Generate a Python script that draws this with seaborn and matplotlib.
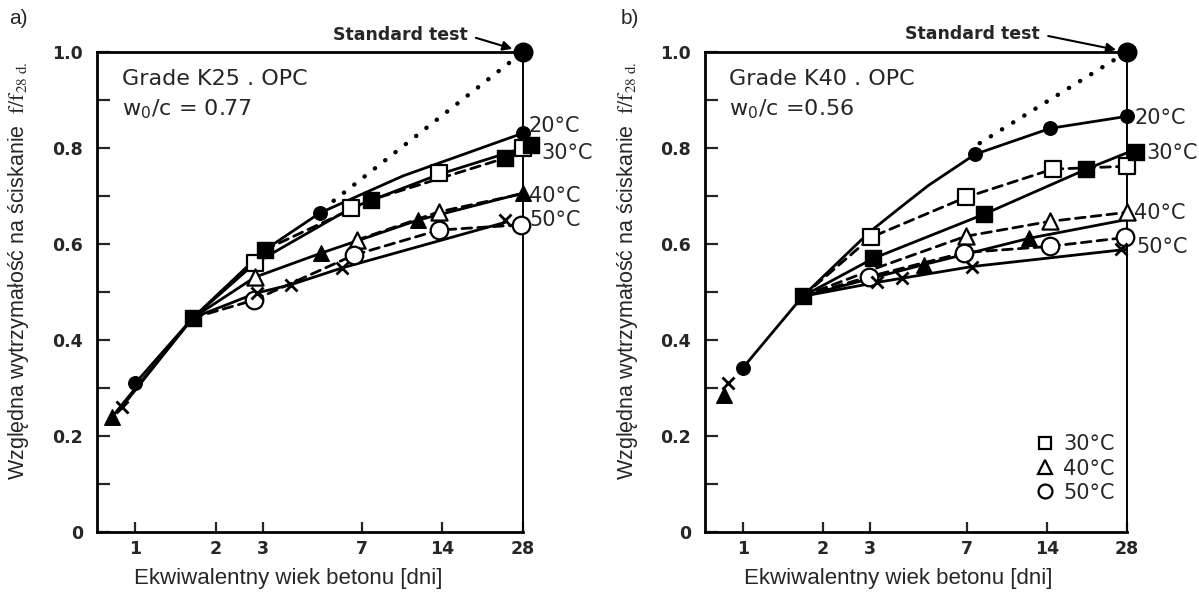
import matplotlib
matplotlib.use("Agg")
import matplotlib.pyplot as plt
from matplotlib.lines import Line2D
from matplotlib.ticker import NullLocator, FixedLocator, FixedFormatter
import seaborn as sns

# ---------------- axis ticks ----------------
X_TICKS = [1, 2, 3, 7, 14, 28]
X_TICK_LABELS = ["1", "2", "3", "7", "14", "28"]
Y_TICKS = [0.0, 0.1, 0.2, 0.3, 0.4, 0.5, 0.6, 0.7, 0.8, 0.9, 1.0]
Y_TICK_LABELS = ["0", "", "0.2", "", "0.4", "", "0.6", "", "0.8", "", "1.0"]

# ---------------- panel a: grade K25, OPC, w0/c = 0.77 ----------------
# fitted curves (age in days, relative strength)
A_C20_D = [1.0, 1.64, 3.05, 4.9, 10, 28]
A_C20_V = [0.31, 0.446, 0.588, 0.665, 0.742, 0.831]
A_C30o_D = [1.64, 2.8, 6.4, 13.6, 28]
A_C30o_V = [0.446, 0.56, 0.675, 0.745, 0.80]
A_C30f_D = [3.05, 7.6, 24, 28]
A_C30f_V = [0.588, 0.692, 0.779, 0.795]
A_C40f_D = [0.82, 1.64, 2.8, 4.94, 11.4, 28]
A_C40f_V = [0.24, 0.446, 0.531, 0.581, 0.65, 0.706]
A_C40o_D = [6.7, 13.6, 28]
A_C40o_V = [0.608, 0.667, 0.705]
A_C50o_D = [1.64, 2.77, 6.55, 13.6, 27.5]
A_C50o_V = [0.446, 0.483, 0.577, 0.629, 0.64]
A_C50x_D = [0.89, 1.64, 2.84, 3.8, 5.9, 24]
A_C50x_V = [0.26, 0.446, 0.498, 0.515, 0.55, 0.645]
A_DOT_D = [5.5, 28]
A_DOT_V = [0.69, 1.0]
# measured points
A_P20_D = [1.0, 4.9, 28]
A_P20_V = [0.31, 0.665, 0.831]
A_P30f_D = [1.64, 3.05, 7.6, 24, 30]
A_P30f_V = [0.446, 0.588, 0.692, 0.779, 0.806]
A_P30o_D = [2.8, 6.4, 13.6, 28]
A_P30o_V = [0.56, 0.675, 0.748, 0.80]
A_P40f_D = [0.82, 4.94, 11.4, 28]
A_P40f_V = [0.24, 0.581, 0.65, 0.706]
A_P40o_D = [2.8, 6.7, 13.6]
A_P40o_V = [0.531, 0.608, 0.667]
A_P50o_D = [2.77, 6.55, 13.6, 27.5]
A_P50o_V = [0.483, 0.577, 0.629, 0.64]
A_P50x_D = [0.89, 2.84, 3.8, 5.9, 24]
A_P50x_V = [0.26, 0.498, 0.515, 0.55, 0.65]
A_STD_D = [28]
A_STD_V = [1.0]

# ---------------- panel b: grade K40, OPC, w0/c = 0.56 ----------------
B_C20_D = [1.0, 1.68, 3.0, 4.0, 5.0, 7.5, 14.4, 28]
B_C20_V = [0.342, 0.491, 0.625, 0.68, 0.722, 0.787, 0.841, 0.866]
B_C30o_D = [1.68, 3.04, 6.9, 14.7, 28]
B_C30o_V = [0.491, 0.614, 0.697, 0.756, 0.762]
B_C30f_D = [1.68, 3.1, 8.1, 19.7, 28]
B_C30f_V = [0.491, 0.57, 0.662, 0.756, 0.79]
B_C40o_D = [1.68, 3.3, 6.9, 14.3, 28]
B_C40o_V = [0.491, 0.553, 0.616, 0.647, 0.666]
B_C40f_D = [1.68, 4.8, 12, 28]
B_C40f_V = [0.491, 0.557, 0.612, 0.651]
B_C50o_D = [1.68, 2.99, 6.8, 14.3, 28]
B_C50o_V = [0.491, 0.532, 0.582, 0.595, 0.614]
B_C50x_D = [1.68, 3.2, 7.3, 28]
B_C50x_V = [0.491, 0.52, 0.553, 0.589]
B_DOT_D = [7.8, 28]
B_DOT_V = [0.81, 1.0]
B_P20_D = [1.0, 7.5, 14.4, 28]
B_P20_V = [0.342, 0.787, 0.841, 0.866]
B_P30f_D = [1.68, 3.1, 8.1, 19.7, 30.4]
B_P30f_V = [0.491, 0.57, 0.662, 0.756, 0.791]
B_P30o_D = [3.04, 6.9, 14.7, 28]
B_P30o_V = [0.614, 0.697, 0.756, 0.762]
B_P40f_D = [0.85, 4.8, 12]
B_P40f_V = [0.286, 0.557, 0.612]
B_P40o_D = [6.9, 14.3, 28]
B_P40o_V = [0.616, 0.647, 0.666]
B_P50o_D = [2.99, 6.8, 14.3, 27.6]
B_P50o_V = [0.532, 0.582, 0.595, 0.614]
B_P50x_D = [0.88, 3.2, 3.96, 7.3, 26.6]
B_P50x_V = [0.311, 0.52, 0.53, 0.553, 0.589]
B_STD_D = [28]
B_STD_V = [1.0]

TEMP_LABELS = ["20°C", "30°C", "40°C", "50°C"]
LEGEND_LABELS = ["30°C", "40°C", "50°C"]

sns.set_theme(style="ticks")
plt.rcParams["font.family"] = ["DejaVu Sans"]
plt.rcParams["mathtext.fontset"] = "stix"

SOLID = "-"
DASHED = (0, (3.5, 2.2))
DOTTED = (0, (0.05, 2.9))

MARKERS = {
    "fc": dict(marker="o", s=95, color="black", edgecolor="black", linewidth=1),
    "fs": dict(marker="s", s=120, color="black", edgecolor="black", linewidth=1),
    "os": dict(marker="s", s=120, color="white", edgecolor="black", linewidth=1.6),
    "ft": dict(marker="^", s=125, color="black", edgecolor="black", linewidth=1),
    "ot": dict(marker="^", s=135, color="white", edgecolor="black", linewidth=1.6),
    "oc": dict(marker="o", s=160, color="white", edgecolor="black", linewidth=1.6),
    "x": dict(marker="x", s=75, color="black", linewidth=2.0),
    "std": dict(marker="o", s=180, color="black", edgecolor="black", linewidth=1),
}

fig = plt.figure(figsize=(11.99, 5.95), dpi=100)
fig.patch.set_facecolor("white")


def curve(ax, d, v, ls, lw=2.0):
    sns.lineplot(x=d, y=v, ax=ax, color="black", lw=lw, linestyle=ls,
                 sort=False, estimator=None, zorder=3,
                 dash_capstyle="round", solid_capstyle="round",
                 solid_joinstyle="round")


def points(ax, d, v, kind):
    sns.scatterplot(x=d, y=v, ax=ax, legend=False, clip_on=False, zorder=6,
                    **MARKERS[kind])


def frame(ax, grade, ratio, ypos_labels, xlabel_pos):
    ax.set_xscale("log")
    ax.set_xlim(0.72, 28)
    ax.set_ylim(0, 1.0)
    ax.xaxis.set_minor_locator(NullLocator())
    ax.xaxis.set_major_locator(FixedLocator(X_TICKS))
    ax.xaxis.set_major_formatter(FixedFormatter(X_TICK_LABELS))
    ax.yaxis.set_major_locator(FixedLocator(Y_TICKS))
    ax.yaxis.set_major_formatter(FixedFormatter(Y_TICK_LABELS))
    ax.tick_params(axis="y", direction="in", length=9, width=1.6, pad=10,
                   labelsize=12.5)
    ax.tick_params(axis="x", direction="in", length=7.5, width=1.6, pad=6,
                   labelsize=12.5)
    for lab in ax.get_xticklabels() + ax.get_yticklabels():
        lab.set_fontweight("bold")
    for side in ["left", "bottom", "top"]:
        ax.spines[side].set_linewidth(2.0)
        ax.spines[side].set_color("black")
    ax.spines["right"].set_linewidth(1.4)
    ax.spines["right"].set_color("black")
    ax.set_xlabel("Ekwiwalentny wiek betonu [dni]", fontsize=16,
                  family=["Liberation Sans", "DejaVu Sans"])
    ax.xaxis.set_label_coords(xlabel_pos, -0.075)
    ax.set_ylabel("Względna wytrzymałość na ściskanie  "
                  "$\\mathrm{f/f_{28\\ d.}}$",
                  fontsize=15.5, family=["Liberation Sans", "DejaVu Sans"])
    ax.yaxis.set_label_coords(-0.155, 0.545)
    ax.text(0.058, 0.944, grade, transform=ax.transAxes, fontsize=16,
            va="center", ha="left")
    ax.text(0.058, 0.883, ratio, transform=ax.transAxes, fontsize=16,
            va="center", ha="left")
    tr = ax.get_yaxis_transform()
    for (xp, yp), lab in zip(ypos_labels, TEMP_LABELS):
        ax.text(xp, yp, lab, transform=tr, fontsize=15, ha="left",
                va="center", clip_on=False)


def standard_label(ax, xfrac, yfrac):
    ax.annotate("Standard test", xy=(28, 1.0), xycoords="data",
                xytext=(xfrac, yfrac), textcoords="axes fraction",
                ha="center", va="center", fontsize=12.5, fontweight="bold",
                annotation_clip=False,
                arrowprops=dict(arrowstyle="-|>", color="black", lw=1.5,
                                shrinkA=4, shrinkB=8, relpos=(1.0, 0.5),
                                mutation_scale=14))


# ---------------- panel a ----------------
ax1 = fig.add_axes([97 / 1199, 63 / 595, 426 / 1199, 480 / 595])
curve(ax1, A_DOT_D, A_DOT_V, DOTTED, lw=3.2)
curve(ax1, A_C20_D, A_C20_V, SOLID)
curve(ax1, A_C30o_D, A_C30o_V, SOLID)
curve(ax1, A_C30f_D, A_C30f_V, DASHED)
curve(ax1, A_C40f_D, A_C40f_V, SOLID)
curve(ax1, A_C40o_D, A_C40o_V, DASHED)
curve(ax1, A_C50o_D, A_C50o_V, DASHED)
curve(ax1, A_C50x_D, A_C50x_V, SOLID)
points(ax1, A_P20_D, A_P20_V, "fc")
points(ax1, A_P30o_D, A_P30o_V, "os")
points(ax1, A_P30f_D, A_P30f_V, "fs")
points(ax1, A_P40o_D, A_P40o_V, "ot")
points(ax1, A_P40f_D, A_P40f_V, "ft")
points(ax1, A_P50o_D, A_P50o_V, "oc")
points(ax1, A_P50x_D, A_P50x_V, "x")
points(ax1, A_STD_D, A_STD_V, "std")
frame(ax1, "Grade K25 . OPC", "w$_\\mathregular{0}$/c = 0.77",
      [(1.014, 0.845), (1.043, 0.79), (1.014, 0.70), (1.014, 0.65)], 0.448)
standard_label(ax1, 0.711, 1.035)

# ---------------- panel b ----------------
ax2 = fig.add_axes([705 / 1199, 63 / 595, 422 / 1199, 480 / 595])
curve(ax2, B_DOT_D, B_DOT_V, DOTTED, lw=3.2)
curve(ax2, B_C20_D, B_C20_V, SOLID)
curve(ax2, B_C30o_D, B_C30o_V, DASHED)
curve(ax2, B_C30f_D, B_C30f_V, SOLID)
curve(ax2, B_C40o_D, B_C40o_V, DASHED)
curve(ax2, B_C40f_D, B_C40f_V, SOLID)
curve(ax2, B_C50o_D, B_C50o_V, DASHED)
curve(ax2, B_C50x_D, B_C50x_V, SOLID)
points(ax2, B_P20_D, B_P20_V, "fc")
points(ax2, B_P30o_D, B_P30o_V, "os")
points(ax2, B_P30f_D, B_P30f_V, "fs")
points(ax2, B_P40o_D, B_P40o_V, "ot")
points(ax2, B_P40f_D, B_P40f_V, "ft")
points(ax2, B_P50o_D, B_P50o_V, "oc")
points(ax2, B_P50x_D, B_P50x_V, "x")
points(ax2, B_STD_D, B_STD_V, "std")
frame(ax2, "Grade K40 . OPC", "w$_\\mathregular{0}$/c =0.56",
      [(1.017, 0.862), (1.045, 0.79), (1.017, 0.665), (1.022, 0.594)], 0.457)
standard_label(ax2, 0.633, 1.037)

handles = [
    Line2D([], [], ls="none", marker="s", ms=9, mfc="white", mec="black", mew=1.6),
    Line2D([], [], ls="none", marker="^", ms=10, mfc="white", mec="black", mew=1.6),
    Line2D([], [], ls="none", marker="o", ms=10, mfc="white", mec="black", mew=1.6),
]
ax2.legend(handles, LEGEND_LABELS, loc="lower right",
           bbox_to_anchor=(1.0, 0.035), frameon=False, fontsize=15,
           handlelength=1.0, handletextpad=0.35, labelspacing=0.2,
           borderaxespad=0.2)

# panel letters
fig.text(0.008, 0.985, "a)", fontsize=15, va="top", ha="left",
         family=["Liberation Sans", "DejaVu Sans"])
fig.text(0.518, 0.985, "b)", fontsize=15, va="top", ha="left",
         family=["Liberation Sans", "DejaVu Sans"])

fig.savefig("out.png", dpi=100, facecolor="white")
